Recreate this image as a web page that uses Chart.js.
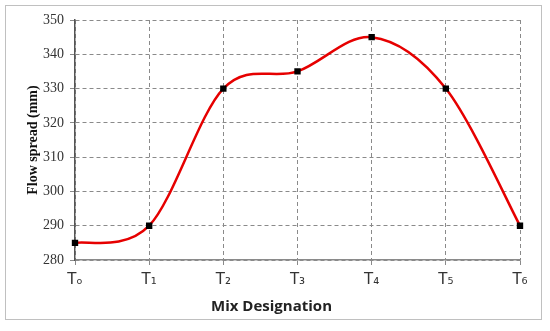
<!DOCTYPE html>
<html><head><meta charset="utf-8">
<script src="https://cdn.jsdelivr.net/npm/chart.js@4/dist/chart.umd.min.js"></script>
<style>
html,body{margin:0;padding:0;background:#fff;}
#wrap{position:relative;width:550px;height:331px;}
#frame{position:absolute;left:5px;top:5px;width:537px;height:315px;border:1.5px solid #c0c0c0;box-sizing:border-box;pointer-events:none;}
canvas{position:absolute;left:0;top:0;}
</style></head>
<body><div id="wrap"><canvas id="c" width="550" height="331"></canvas><div id="frame"></div></div>
<script>
const categories = ["Tₒ","T₁","T₂","T₃","T₄","T₅","T₆"];
const flowSpread = [285, 290, 330, 335, 345, 330, 290];
const yTicks = [280, 290, 300, 310, 320, 330, 340, 350];
const xTitle = "Mix Designation";
const yTitle = "Flow spread (mm)";

// Excel-style (uniform Catmull-Rom) smoothing of the library's own point positions
const excelSmooth = {
  id: 'excelSmooth',
  afterDatasetsUpdate(chart) {
    const meta = chart.getDatasetMeta(0);
    const line = meta.dataset;
    line.updateControlPoints(chart.chartArea, 'x');
    const pts = meta.data;
    const n = pts.length;
    for (let i = 0; i < n; i++) {
      const p = pts[i];
      const prev = pts[Math.max(i - 1, 0)];
      const next = pts[Math.min(i + 1, n - 1)];
      const tx = (next.x - prev.x) / 6, ty = (next.y - prev.y) / 6;
      p.cp1x = p.x - tx; p.cp1y = p.y - ty;
      p.cp2x = p.x + tx; p.cp2y = p.y + ty;
    }
  }
};

const xTitlePlugin = {
  id: 'xTitlePlugin',
  afterDraw(chart) {
    const ctx = chart.ctx;
    const xs = chart.scales.x;
    ctx.save();
    ctx.font = 'bold 15px "Open Sans"';
    ctx.fillStyle = '#222';
    ctx.textAlign = 'center';
    ctx.textBaseline = 'middle';
    ctx.fillText(xTitle, xs.getPixelForValue(2.65), xs.bottom - 24);
    ctx.restore();
  }
};

new Chart(document.getElementById('c'), {
  type: 'line',
  data: {
    labels: categories,
    datasets: [{
      data: flowSpread,
      borderColor: '#e60000',
      borderWidth: 2.5,
      tension: 0.4,
      fill: false,
      pointStyle: 'rect',
      pointRadius: 4.5,
      pointBackgroundColor: '#000',
      pointBorderColor: '#000',
      pointBorderWidth: 0
    }]
  },
  plugins: [excelSmooth, xTitlePlugin],
  options: {
    responsive: false,
    animation: false,
    layout: { padding: { left: 0, right: 30, top: 20, bottom: 0 } },
    plugins: { legend: { display: false }, tooltip: { enabled: false } },
    scales: {
      x: {
        offset: false,
        grid: { color: '#8a8a8a', lineWidth: 1, tickLength: 5, drawTicks: true },
        border: { display: true, color: '#8a8a8a', width: 1.5, dash: [4, 3] },
        ticks: { color: '#333', font: { family: 'DejaVu Sans', size: 15 }, padding: 6, maxRotation: 0 },
        title: { display: false },
        afterFit: s => { s.height = 71; }
      },
      y: {
        min: 280, max: 350,
        afterBuildTicks: s => { s.ticks = yTicks.map(v => ({ value: v })); },
        grid: { color: '#8a8a8a', lineWidth: 1, tickLength: 5 },
        border: { display: true, color: '#555', width: 1.5, dash: [4, 3] },
        ticks: { color: '#333', font: { family: 'Liberation Serif', size: 14 }, padding: 6 },
        title: { display: true, text: yTitle, color: '#111', font: { family: 'Liberation Serif', size: 14, weight: 'bold' }, padding: { top: 25, bottom: 0 } },
        afterFit: s => { s.width = 75; }
      }
    }
  }
});
</script></body></html>
